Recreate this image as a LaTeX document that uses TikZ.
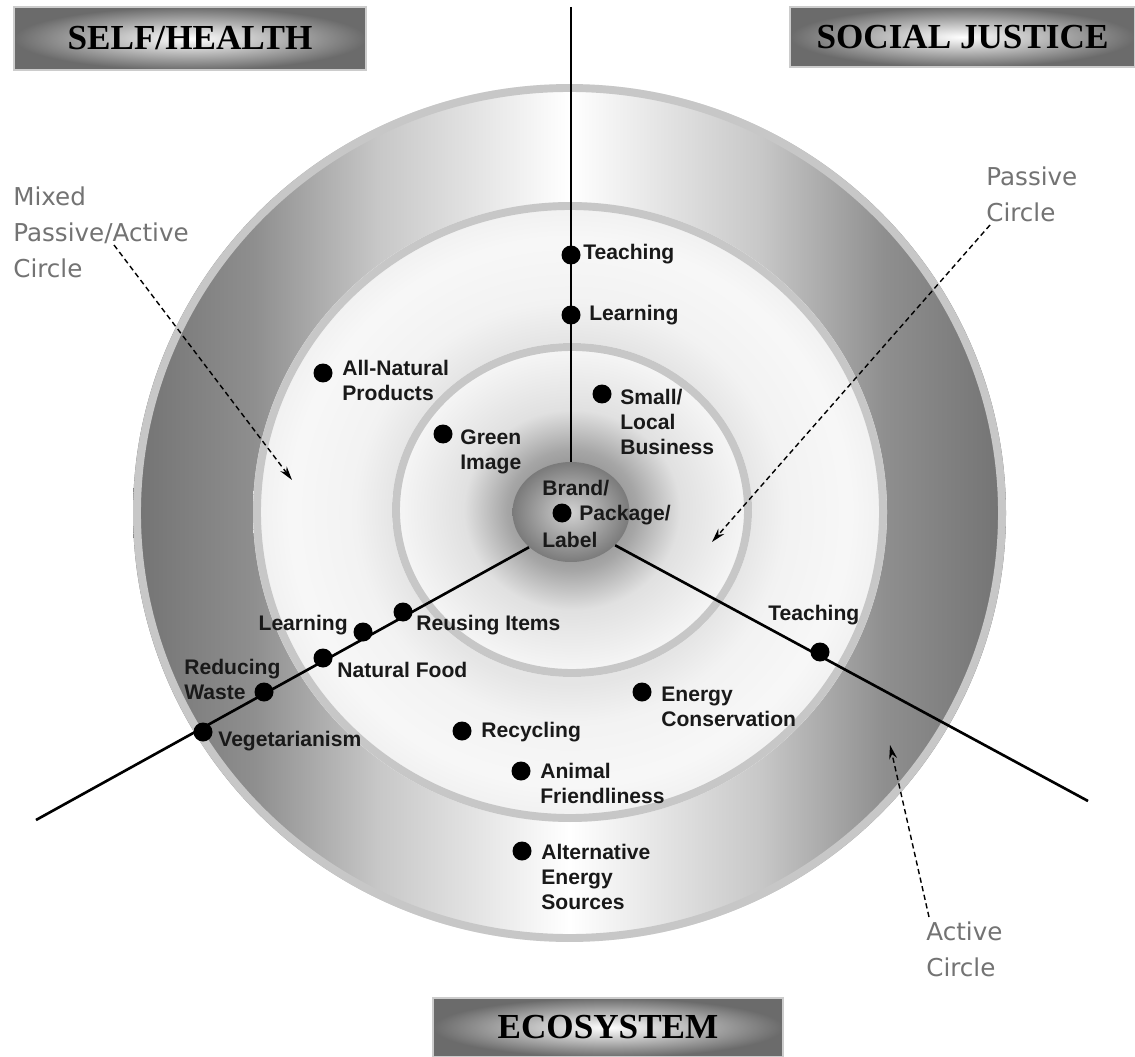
\documentclass[tikz,border=0pt]{standalone}
\usepackage{fontspec}
\setmainfont{Liberation Sans}
\newfontfamily\boxfont{Liberation Serif}
\newfontfamily\notefont{DejaVu Sans}
\usetikzlibrary{shapes.geometric,arrows.meta}

\pgfdeclarehorizontalshading{activeshade}{100bp}{color(0bp)=(black!55); color(25bp)=(black!55); color(32bp)=(black!44); color(39bp)=(black!22); color(50bp)=(white); color(61bp)=(black!22); color(68bp)=(black!44); color(75bp)=(black!55); color(100bp)=(black!55)}
\pgfdeclareradialshading{mixedshade}{\pgfpoint{0bp}{0bp}}{color(0bp)=(black!11); color(14bp)=(black!10); color(17bp)=(black!5); color(22bp)=(black!3); color(25bp)=(black!6); color(50bp)=(black!6)}
\pgfdeclareradialshading{passiveshade}{\pgfpoint{0bp}{0bp}}{color(0bp)=(black!55); color(9bp)=(black!35); color(15bp)=(black!12); color(25bp)=(black!3); color(50bp)=(black!3)}

\begin{document}
\begin{tikzpicture}[x=0.02cm, y=-0.02cm,
        dot/.style={circle, fill=black, inner sep=0pt, minimum size=0.38cm},
        lbl/.style={font=\bfseries\fontsize{12}{14.2}\selectfont, text=black!90, inner sep=0pt, align=left, anchor=north west},
        note/.style={font=\notefont\fontsize{14}{20.5}\selectfont, text=black!55, inner sep=0pt, align=left, anchor=north west},
        catbox/.style={rectangle, inner sep=0pt, shade, inner color=white, outer color=black!58, draw=black!20, line width=1pt, font=\boxfont\bfseries\fontsize{20}{24}\selectfont},
        rim/.style={black!22, line width=4.5pt},
        spoke/.style={line width=1.5pt},
        pointer/.style={dash pattern=on 3pt off 2pt, line width=0.8pt, -{Stealth[length=8pt, width=4.5pt]}}]
        \fill[white] (0,0) rectangle (1135,1057);
        \useasboundingbox (0,0) rectangle (1135,1057);

        % the three circles
        \shade[shading=activeshade] (569.5,513) ellipse [x radius=436.5, y radius=429];
        \draw[rim] (569.5,513) ellipse [x radius=432.5, y radius=425];
        \shade[shading=mixedshade] (570,512) ellipse [x radius=317, y radius=310];
        \draw[rim] (570,512) ellipse [x radius=313, y radius=306];
        \shade[shading=passiveshade] (572,510) ellipse [x radius=180, y radius=167];
        \draw[rim] (572,510) ellipse [x radius=176, y radius=163];

        \node[ellipse, minimum width=2.34cm, minimum height=2cm, inner sep=0pt, shade, inner color=black!18, outer color=black!52] (brand) at (571,512) {};

        \coordinate (north) at (571,7);
        \coordinate (southwest) at (36,820);
        \coordinate (southeast) at (1088,801);
        \draw[spoke] (north) -- (brand);
        \draw[spoke] (brand.220) -- (southwest);
        \draw[spoke] (brand.-37) -- (southeast);

        \begin{scope}[every node/.style={dot}]
            \node (teachS) at (571,255) {};
            \node (learnS) at (571,315) {};
            \node (natural) at (323,373) {};
            \node (green) at (443,434) {};
            \node (small) at (602,394) {};
            \node (pack) at (562,513) {};
            \node (reuse) at (403,612) {};
            \node (learnE) at (363,632) {};
            \node (food) at (323,658) {};
            \node (waste) at (264,692) {};
            \node (veg) at (203,732) {};
            \node (recycle) at (462,731) {};
            \node (animal) at (521,771) {};
            \node (altenergy) at (522,851) {};
            \node (energy) at (642,692) {};
            \node (teachJ) at (820,652) {};
        \end{scope}

        \begin{scope}[every node/.style={lbl}]
            \node (teachSTxt) at (583,244) {Teaching};
            \node (learnSTxt) at (589,305) {Learning};
            \node (naturalTxt) at (342,360) {All-Natural\\Products};
            \node (greenTxt) at (460,429) {Green\\Image};
            \node (smallTxt) at (620,389) {Small/\\Local\\Business};
            \node (brandTxt) at (542,480) {Brand/};
            \node (packTxt) at (579,505) {Package/};
            \node (labelTxt) at (542,532) {Label};
            \node (reuseTxt) at (416,615) {Reusing Items};
            \node[anchor=north east] (learnETxt) at (348,615) {Learning};
            \node (foodTxt) at (337,662) {Natural Food};
            \node (wasteTxt) at (184,659) {Reducing\\Waste};
            \node (vegTxt) at (218,731) {Vegetarianism};
            \node (recycleTxt) at (481,722) {Recycling};
            \node (animalTxt) at (540,763) {Animal\\Friendliness};
            \node (altenergyTxt) at (541,844) {Alternative\\Energy\\Sources};
            \node (energyTxt) at (661,687) {Energy\\Conservation};
            \node (teachJTxt) at (768,605) {Teaching};
        \end{scope}

        \node[catbox, minimum width=7.04cm, minimum height=1.26cm] (self) at (190,38.5) {SELF/HEALTH};
        \node[catbox, minimum width=6.9cm, minimum height=1.2cm] (social) at (962.5,37) {SOCIAL JUSTICE};
        \node[catbox, minimum width=7cm, minimum height=1.18cm] (eco) at (608,1027.5) {ECOSYSTEM};

        \node[note] (mixedTxt) at (13,186) {Mixed\\Passive/Active\\Circle};
        \node[note] (passiveTxt) at (986,166) {Passive\\Circle};
        \node[note] (activeTxt) at (926,921) {Active\\Circle};

        \coordinate (mixTail) at (114,245);
        \coordinate (mixTip) at (292,480);
        \coordinate (pasTail) at (990,225);
        \coordinate (pasTip) at (712,542);
        \coordinate (actTail) at (929,917);
        \coordinate (actTip) at (890,745);
        \draw[pointer] (mixTail) -- (mixTip);
        \draw[pointer] (pasTail) -- (pasTip);
        \draw[pointer] (actTail) -- (actTip);
    \end{tikzpicture}
\end{document}
